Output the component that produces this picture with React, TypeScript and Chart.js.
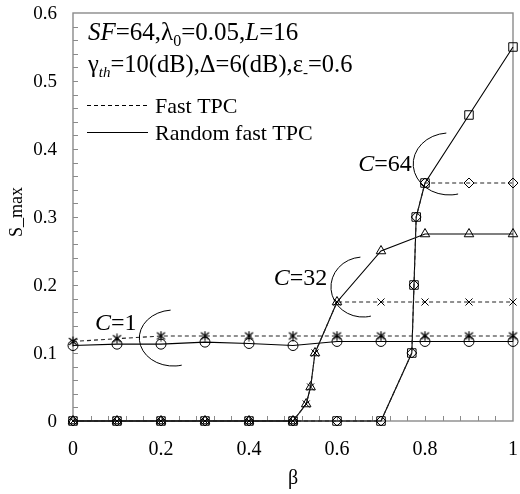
import React, { useEffect, useRef } from "react";
import { Chart, registerables } from "chart.js";
Chart.register(...registerables);

// ---- data ----
const betaC1 = [0, 0.1, 0.2, 0.3, 0.4, 0.5, 0.6, 0.7, 0.8, 0.9, 1];
const fastC1 = [0.117, 0.121, 0.125, 0.125, 0.125, 0.125, 0.125, 0.125, 0.125, 0.125, 0.125];
const randC1 = [0.111, 0.113, 0.113, 0.116, 0.114, 0.111, 0.117, 0.117, 0.117, 0.117, 0.117];

const betaC32 = [0, 0.1, 0.2, 0.3, 0.4, 0.5, 0.53, 0.54, 0.55, 0.6, 0.7, 0.8, 0.9, 1];
const fastC32 = [0, 0, 0, 0, 0, 0, 0.025, 0.05, 0.1, 0.175, 0.175, 0.175, 0.175, 0.175];
const randC32 = [0, 0, 0, 0, 0, 0, 0.025, 0.05, 0.1, 0.175, 0.25, 0.275, 0.275, 0.275];

const betaC64 = [0, 0.1, 0.2, 0.3, 0.4, 0.5, 0.6, 0.7, 0.77, 0.775, 0.78, 0.8, 0.9, 1];
const fastC64 = [0, 0, 0, 0, 0, 0, 0, 0, 0.1, 0.2, 0.3, 0.35, 0.35, 0.35];
const randC64 = [0, 0, 0, 0, 0, 0, 0, 0, 0.1, 0.2, 0.3, 0.35, 0.45, 0.55];

const xTicks = [0, 0.2, 0.4, 0.6, 0.8, 1];
const yTicks = [0, 0.1, 0.2, 0.3, 0.4, 0.5, 0.6];

// annotation: C label text (right end, vertical center) and bracket arc centre in data coords
const cLabels = [
  { text: "=1", tx: 0.1445, ty: 0.1456, cx: 0.228, cy: 0.122, rx: 34, ry: 28 },
  { text: "=32", tx: 0.578, ty: 0.212, cx: 0.659, cy: 0.197, rx: 32, ry: 30 },
  { text: "=64", tx: 0.77, ty: 0.379, cx: 0.855, cy: 0.378, rx: 36, ry: 31 },
];

const SERIF = "'Liberation Serif', 'DejaVu Serif', serif";

const zip = (xs: number[], ys: number[]) => xs.map((x, i) => ({ x, y: ys[i] }));
const fmt = (v: number) => String(Math.round(v * 10) / 10);

function makeAsterisk(): HTMLCanvasElement {
  const c = document.createElement("canvas");
  c.width = 11;
  c.height = 11;
  const g = c.getContext("2d")!;
  g.strokeStyle = "#000";
  g.lineWidth = 1.2;
  g.beginPath();
  g.moveTo(1.5, 2);
  g.lineTo(9.5, 9);
  g.moveTo(9.5, 2);
  g.lineTo(1.5, 9);
  g.moveTo(5.5, 0.5);
  g.lineTo(5.5, 10.5);
  g.stroke();
  return c;
}

type Part = { t: string; i?: boolean; sub?: boolean };

function drawRich(ctx: CanvasRenderingContext2D, x: number, y: number, parts: Part[], size: number) {
  ctx.textBaseline = "alphabetic";
  ctx.textAlign = "left";
  for (const p of parts) {
    const s = p.sub ? Math.round(size * 0.62) : size;
    ctx.font = `${p.i ? "italic " : ""}${s}px ${SERIF}`;
    ctx.fillText(p.t, x, p.sub ? y + size * 0.22 : y);
    x += ctx.measureText(p.t).width;
  }
  return x;
}

function richWidth(ctx: CanvasRenderingContext2D, parts: Part[], size: number) {
  let w = 0;
  for (const p of parts) {
    const s = p.sub ? Math.round(size * 0.62) : size;
    ctx.font = `${p.i ? "italic " : ""}${s}px ${SERIF}`;
    w += ctx.measureText(p.t).width;
  }
  return w;
}

const decoPlugin = {
  id: "deco",
  beforeDatasetsDraw(chart: any) {
    const { ctx, chartArea: a, scales } = chart;
    const xs = scales.x;
    const ys = scales.y;
    ctx.save();
    ctx.strokeStyle = "#8a8a8a";
    ctx.lineWidth = 1.4;
    ctx.strokeRect(a.left, a.top, a.right - a.left, a.bottom - a.top);
    ctx.lineWidth = 1;
    ctx.beginPath();
    for (let i = 1; i < 25; i++) {
      const px = Math.round(xs.getPixelForValue(i * 0.04)) + 0.5;
      ctx.moveTo(px, a.bottom);
      ctx.lineTo(px, a.bottom - 5);
    }
    for (let i = 1; i < 30; i++) {
      const py = Math.round(ys.getPixelForValue(i * 0.02)) + 0.5;
      ctx.moveTo(a.left, py);
      ctx.lineTo(a.left + 5, py);
    }
    ctx.stroke();

    // tick labels
    ctx.fillStyle = "#000";
    ctx.font = `19px ${SERIF}`;
    ctx.textAlign = "right";
    ctx.textBaseline = "middle";
    for (const v of yTicks) {
      ctx.fillText(fmt(v), a.left - 16, ys.getPixelForValue(v) + 1);
    }
    ctx.font = `20px ${SERIF}`;
    ctx.textAlign = "center";
    for (const v of xTicks) {
      ctx.fillText(fmt(v), xs.getPixelForValue(v), a.bottom + 29);
    }
    ctx.restore();
  },
  afterDraw(chart: any) {
    const { ctx, chartArea: a, scales } = chart;
    const xs = scales.x;
    const ys = scales.y;
    ctx.save();
    ctx.fillStyle = "#000";
    // parameters text
    drawRich(ctx, 88, 40, [
      { t: "SF", i: true },
      { t: "=64," },
      { t: "λ" },
      { t: "0", sub: true },
      { t: "=0.05," },
      { t: "L", i: true },
      { t: "=16" },
    ], 25);
    drawRich(ctx, 88, 72, [
      { t: "γ" },
      { t: "th", i: true, sub: true },
      { t: "=10(dB),Δ=6(dB),ε" },
      { t: "-", sub: true },
      { t: "=0.6" },
    ], 24.5);
    // legend
    ctx.strokeStyle = "#000";
    ctx.lineWidth = 1.1;
    ctx.setLineDash([4, 3]);
    ctx.beginPath();
    ctx.moveTo(87, 105.5);
    ctx.lineTo(148, 105.5);
    ctx.stroke();
    ctx.setLineDash([]);
    ctx.beginPath();
    ctx.moveTo(87, 132.5);
    ctx.lineTo(148, 132.5);
    ctx.stroke();
    drawRich(ctx, 155, 113, [{ t: "Fast TPC" }], 22);
    drawRich(ctx, 155, 140, [{ t: "Random fast TPC" }], 22);

    // C labels and brackets
    for (const c of cLabels) {
      const parts: Part[] = [{ t: "C", i: true }, { t: c.text }];
      const w = richWidth(ctx, parts, 24);
      const tx = xs.getPixelForValue(c.tx);
      const ty = ys.getPixelForValue(c.ty);
      drawRich(ctx, tx - w, ty + 8, parts, 24);
      const cx = xs.getPixelForValue(c.cx);
      const cy = ys.getPixelForValue(c.cy);
      ctx.lineWidth = 1;
      ctx.beginPath();
      ctx.ellipse(cx, cy, c.rx, c.ry, 0, -Math.PI / 2 - 0.08, Math.PI / 2 - 0.25, true);
      ctx.stroke();
    }

    // axis titles
    ctx.font = `20px ${SERIF}`;
    ctx.textAlign = "center";
    ctx.textBaseline = "middle";
    ctx.fillText("β", (a.left + a.right) / 2, 479);
    ctx.save();
    ctx.translate(17, 212);
    ctx.rotate(-Math.PI / 2);
    ctx.font = `18px ${SERIF}`;
    ctx.fillText("S_max", 0, 0);
    ctx.restore();
    ctx.restore();
  },
};

export default function App() {
  const ref = useRef<HTMLCanvasElement>(null);
  useEffect(() => {
    const star = makeAsterisk();
    const common = { borderColor: "#000", pointBorderColor: "#000", pointBackgroundColor: "rgba(0,0,0,0)", showLine: true, borderWidth: 1.1, pointBorderWidth: 1, clip: false as any };
    const dashed = { ...common, borderDash: [4, 3], borderColor: "#222" };
    const chart = new Chart(ref.current!, {
      type: "scatter",
      data: {
        datasets: [
          { ...dashed, label: "Fast C=1", data: zip(betaC1, fastC1), pointStyle: star as any, pointRadius: 5 },
          { ...dashed, label: "Fast C=32", data: zip(betaC32, fastC32), pointStyle: "crossRot", pointRadius: 5 },
          { ...dashed, label: "Fast C=64", data: zip(betaC64, fastC64), pointStyle: "rectRot", pointRadius: 5 },
          { ...common, label: "Random C=1", data: zip(betaC1, randC1), pointStyle: "circle", pointRadius: 5 },
          { ...common, label: "Random C=32", data: zip(betaC32, randC32), pointStyle: "triangle", pointRadius: 5.5 },
          { ...common, label: "Random C=64", data: zip(betaC64, randC64), pointStyle: "rect", pointRadius: 6 },
        ],
      },
      options: {
        animation: false,
        responsive: false,
        devicePixelRatio: 1,
        layout: { padding: { left: 0, right: 4, top: 13, bottom: 0 } },
        plugins: { legend: { display: false }, tooltip: { enabled: false } },
        scales: {
          x: {
            type: "linear",
            min: 0,
            max: 1,
            grid: { display: false, drawTicks: false },
            border: { display: false },
            afterFit: (s: any) => { s.height = 73; },
            ticks: { display: false, padding: 0 },
          },
          y: {
            type: "linear",
            min: 0,
            max: 0.6,
            grid: { display: false, drawTicks: false },
            border: { display: false },
            afterFit: (s: any) => { s.width = 73; },
            ticks: { display: false, padding: 0 },
          },
        },
      },
      plugins: [decoPlugin],
    });
    return () => chart.destroy();
  }, []);
  return (
    <div style={{ position: "absolute", left: 0, top: 0, width: 520, height: 494, background: "#fff" }}>
      <canvas ref={ref} width={520} height={494} />
    </div>
  );
}
